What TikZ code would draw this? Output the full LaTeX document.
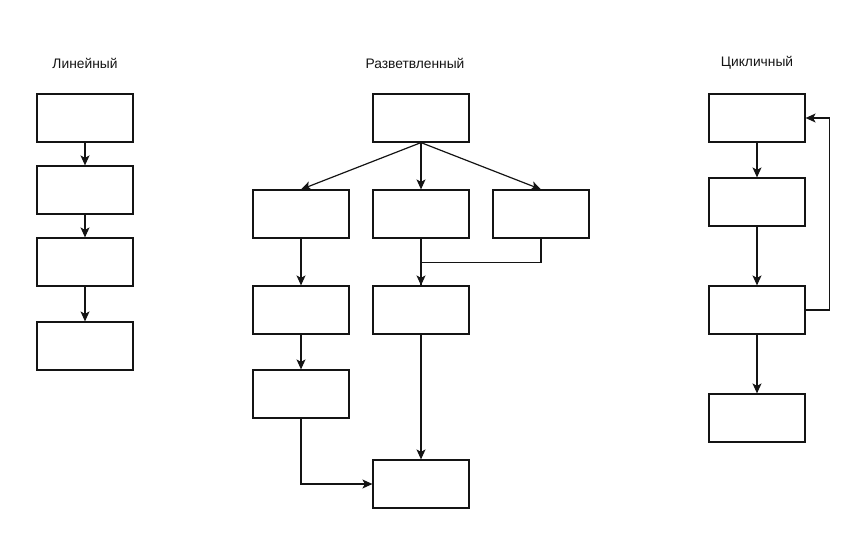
\documentclass[tikz,border=0pt]{standalone}
\usepackage{fontspec}
\setmainfont{Liberation Sans}
\usetikzlibrary{arrows.meta}
\tikzset{
  blok/.style={draw, line width=1.2pt, minimum width=96pt, minimum height=48pt, inner sep=0pt},
  strz/.style={line width=1.2pt, -{Stealth[length=10pt, width=9pt, inset=2.5pt]}},
  linia/.style={line width=1.2pt},
  tytul/.style={font=\fontsize{13.8}{16}\selectfont}
}
\begin{document}
\begin{tikzpicture}[x=1pt, y=-1pt, color={rgb,255:red,20;green,20;blue,20}]
        \useasboundingbox (0,0) rectangle (866,542);
        
        % Линейный алгоритм
        \node[tytul] (tl) at (85,63) {Линейный};
        \node[blok] (l1) at (85,118) {};
        \node[blok] (l2) at (85,190) {};
        \node[blok] (l3) at (85,262) {};
        \node[blok] (l4) at (85,346) {};
        \draw[strz] (l1) -- (l2);
        \draw[strz] (l2) -- (l3);
        \draw[strz] (l3) -- (l4);
        
        % Разветвленный алгоритм
        \node[tytul] (tr) at (415,63) {Разветвленный};
        \node[blok] (r1) at (421,118) {};
        \node[blok] (r2) at (301,214) {};
        \node[blok] (r3) at (421,214) {};
        \node[blok] (r4) at (541,214) {};
        \node[blok] (r5) at (301,310) {};
        \node[blok] (r6) at (421,310) {};
        \node[blok] (r7) at (301,394) {};
        \node[blok] (r8) at (421,484) {};
        \draw[strz] (r1.south) -- (r2.north);
        \draw[strz] (r1.south) -- (r3.north);
        \draw[strz] (r1.south) -- (r4.north);
        \draw[strz] (r2) -- (r5);
        \draw[strz] (r3) -- (r6);
        \draw[linia] (r4.south) -- ++(0,24) -| (r6.north);
        \draw[strz] (r5) -- (r7);
        \draw[strz] (r6) -- (r8);
        \draw[strz] (r7.south) |- (r8.west);
        
        % Циклический алгоритм
        \node[tytul] (tc) at (757,63) {Цикличный};
        \node[blok] (c1) at (757,118) {};
        \node[blok] (c2) at (757,202) {};
        \node[blok] (c3) at (757,310) {};
        \node[blok] (c4) at (757,418) {};
        \draw[strz] (c1) -- (c2);
        \draw[strz] (c2) -- (c3);
        \draw[strz] (c3) -- (c4);
        \draw[strz] (c3.east) -- ++(24,0) |- (c1.east);
    \end{tikzpicture}
\end{document}
